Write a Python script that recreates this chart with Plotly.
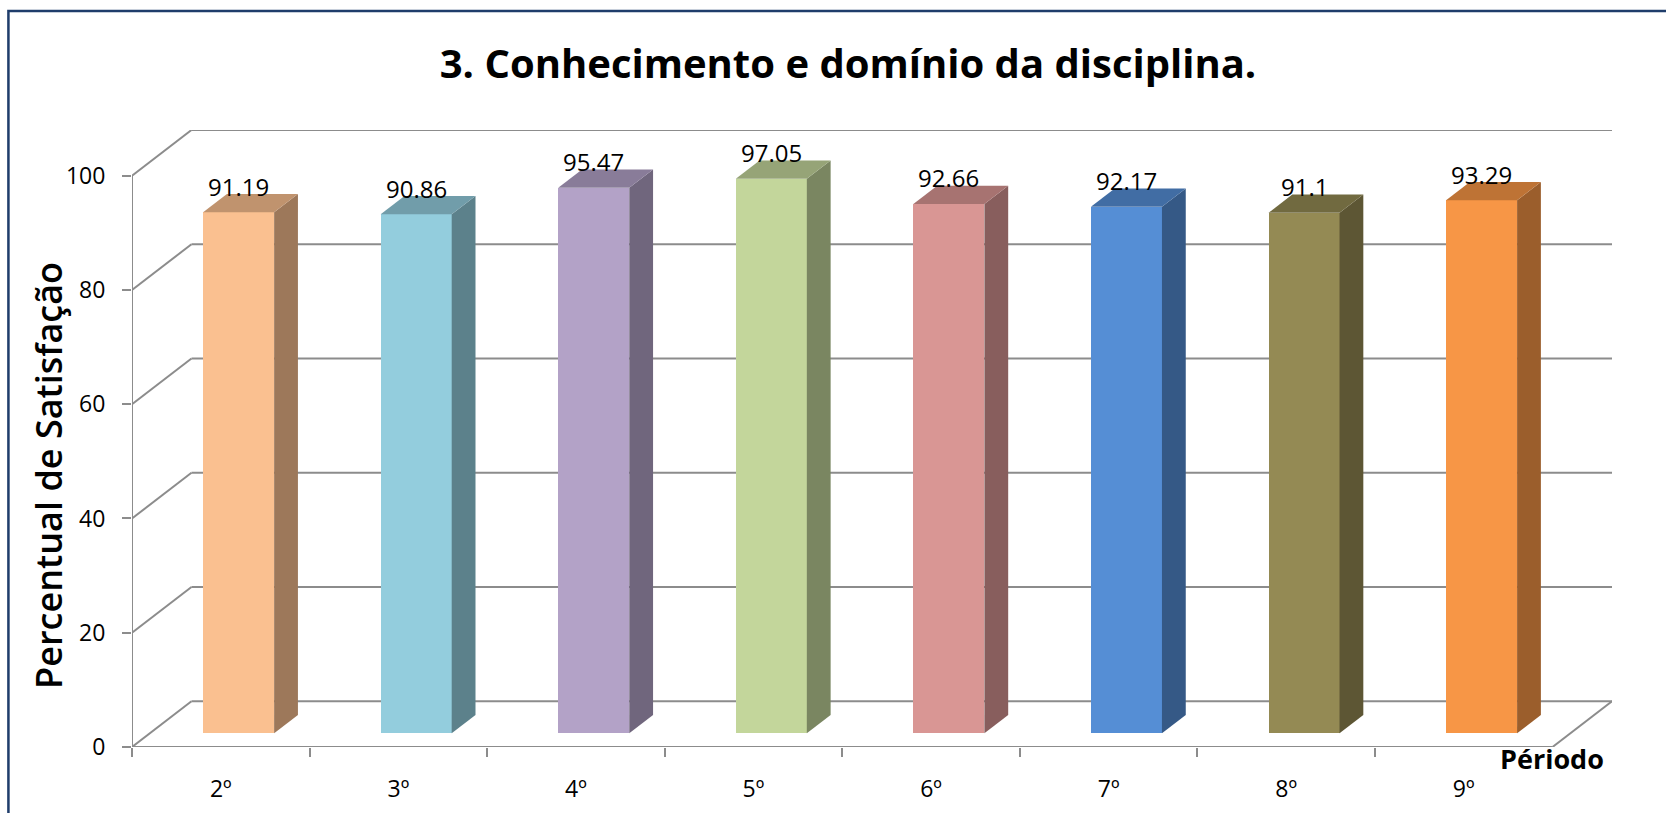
import plotly.graph_objects as go

# ---------------- data ----------------
categories = ["2º", "3º", "4º", "5º", "6º", "7º", "8º", "9º"]
values = [91.19, 90.86, 95.47, 97.05, 92.66, 92.17, 91.1, 93.29]
front_colors = ["#FAC090", "#93CDDD", "#B3A2C7", "#C3D69B",
                "#D99694", "#558ED5", "#948A54", "#F79646"]
y_ticks = [0, 20, 40, 60, 80, 100]
chart_title = "3. Conhecimento e domínio da disciplina."
y_title = "Percentual de Satisfação"
x_title = "Périodo"

# ---------------- 3D projection parameters (axis units) ----------------
DX = 0.335      # depth offset along x, in category units
DY = 8.0        # depth offset along y, in value units
F0, F1 = 0.3, 0.7   # bar front / back position within the depth
BAR_W = 0.4
N = len(categories)
GRID = "#8C8C8C"
FONT = "Open Sans"


def shade(hex_color, k):
    h = hex_color.lstrip("#")
    r, g, b = (int(h[i:i + 2], 16) for i in (0, 2, 4))
    return "#{:02X}{:02X}{:02X}".format(int(r * k), int(g * k), int(b * k))


fig = go.Figure()

# front faces through a bar trace
fronts_x = [i + 0.5 + F0 * DX for i in range(N)]
fig.add_trace(go.Bar(
    x=fronts_x, y=values, base=F0 * DY, width=BAR_W,
    marker=dict(color=front_colors, line=dict(width=0)),
    hoverinfo="skip", showlegend=False,
))

bdx = (F1 - F0) * DX
bdy = (F1 - F0) * DY
for i, (v, c) in enumerate(zip(values, front_colors)):
    xl = fronts_x[i] - BAR_W / 2
    xr = fronts_x[i] + BAR_W / 2
    y0 = F0 * DY
    yt = v + F0 * DY
    # side face
    fig.add_trace(go.Scatter(
        x=[xr, xr + bdx, xr + bdx, xr, xr],
        y=[y0, y0 + bdy, yt + bdy, yt, y0],
        fill="toself", fillcolor=shade(c, 0.63), mode="lines",
        line=dict(width=0, color=shade(c, 0.63)),
        hoverinfo="skip", showlegend=False,
    ))
    # top face
    fig.add_trace(go.Scatter(
        x=[xl, xr, xr + bdx, xl + bdx, xl],
        y=[yt, yt, yt + bdy, yt + bdy, yt],
        fill="toself", fillcolor=shade(c, 0.77), mode="lines",
        line=dict(width=0, color=shade(c, 0.77)),
        hoverinfo="skip", showlegend=False,
    ))

# ---------------- walls / gridlines ----------------
shapes = []
for t in y_ticks:
    shapes.append(dict(type="line", xref="x", yref="y", x0=DX, y0=t + DY,
                       x1=N + DX, y1=t + DY, layer="below",
                       line=dict(color=GRID, width=2)))
    shapes.append(dict(type="line", xref="x", yref="y", x0=0, y0=t,
                       x1=DX, y1=t + DY, layer="below",
                       line=dict(color=GRID, width=2)))
shapes.append(dict(type="line", xref="x", yref="y", x0=0, y0=0, x1=0,
                   y1=y_ticks[-1], layer="below", line=dict(color=GRID, width=2)))
shapes.append(dict(type="line", xref="x", yref="y", x0=0, y0=0, x1=N,
                   y1=0, layer="below", line=dict(color=GRID, width=2)))
shapes.append(dict(type="line", xref="x", yref="y", x0=N, y0=0, x1=N + DX,
                   y1=DY, layer="below", line=dict(color=GRID, width=2)))
# outer frame
shapes.append(dict(type="rect", xref="paper", yref="paper",
                   x0=-0.0835, y0=-0.3, x1=1.2, y1=1.193,
                   line=dict(color="#1F3D6B", width=2.5)))

annotations = []
for i, v in enumerate(values):
    annotations.append(dict(
        x=fronts_x[i], y=v + F0 * DY, xref="x", yref="y",
        text=f"{v:g}", showarrow=False, yshift=26, yanchor="middle",
        font=dict(family=FONT, size=24, color="black"),
    ))
annotations.append(dict(
    x=-0.0565, y=0.440, xref="paper", yref="paper", text=y_title,
    textangle=-90, showarrow=False, xanchor="center", yanchor="middle",
    font=dict(family=FONT, size=36, color="black", weight=600),
))
annotations.append(dict(
    x=0.9595, y=-0.018, xref="paper", yref="paper", text=x_title,
    showarrow=False, xanchor="center", yanchor="middle",
    font=dict(family=FONT, size=27, color="black", weight="bold"),
))

fig.update_layout(
    width=1666, height=813,
    margin=dict(l=132, r=54, t=130, b=66, autoexpand=False),
    paper_bgcolor="white", plot_bgcolor="white",
    title=dict(text=chart_title, x=0.509, xanchor="center",
               y=1 - 64 / 813, yanchor="middle",
               font=dict(family=FONT, size=40, color="black", weight="bold")),
    shapes=shapes, annotations=annotations,
    showlegend=False, bargap=0,
    xaxis=dict(range=[0, N + DX], tickmode="array",
               tickvals=[i + 0.5 for i in range(N)], ticktext=categories,
               ticks="outside", ticklen=21, tickcolor="rgba(0,0,0,0)",
               showgrid=False, zeroline=False, showline=False, fixedrange=True,
               automargin=False,
               tickfont=dict(family=FONT, size=23, color="black"),
               minor=dict(tickmode="array", tickvals=list(range(N)),
                          ticks="outside", ticklen=9, tickwidth=2,
                          tickcolor=GRID, showgrid=False)),
    yaxis=dict(range=[0, y_ticks[-1] + DY], tickmode="array", tickvals=y_ticks,
               ticks="outside", ticklen=9, tickwidth=2, tickcolor=GRID,
               showgrid=False, zeroline=False, showline=False, fixedrange=True,
               automargin=False, ticklabelstandoff=12,
               tickfont=dict(family=FONT, size=23, color="black")),
)

fig.write_html("out.html", config={"displayModeBar": False},
               post_script="document.body.style.margin='0';document.body.style.overflow='hidden';")
